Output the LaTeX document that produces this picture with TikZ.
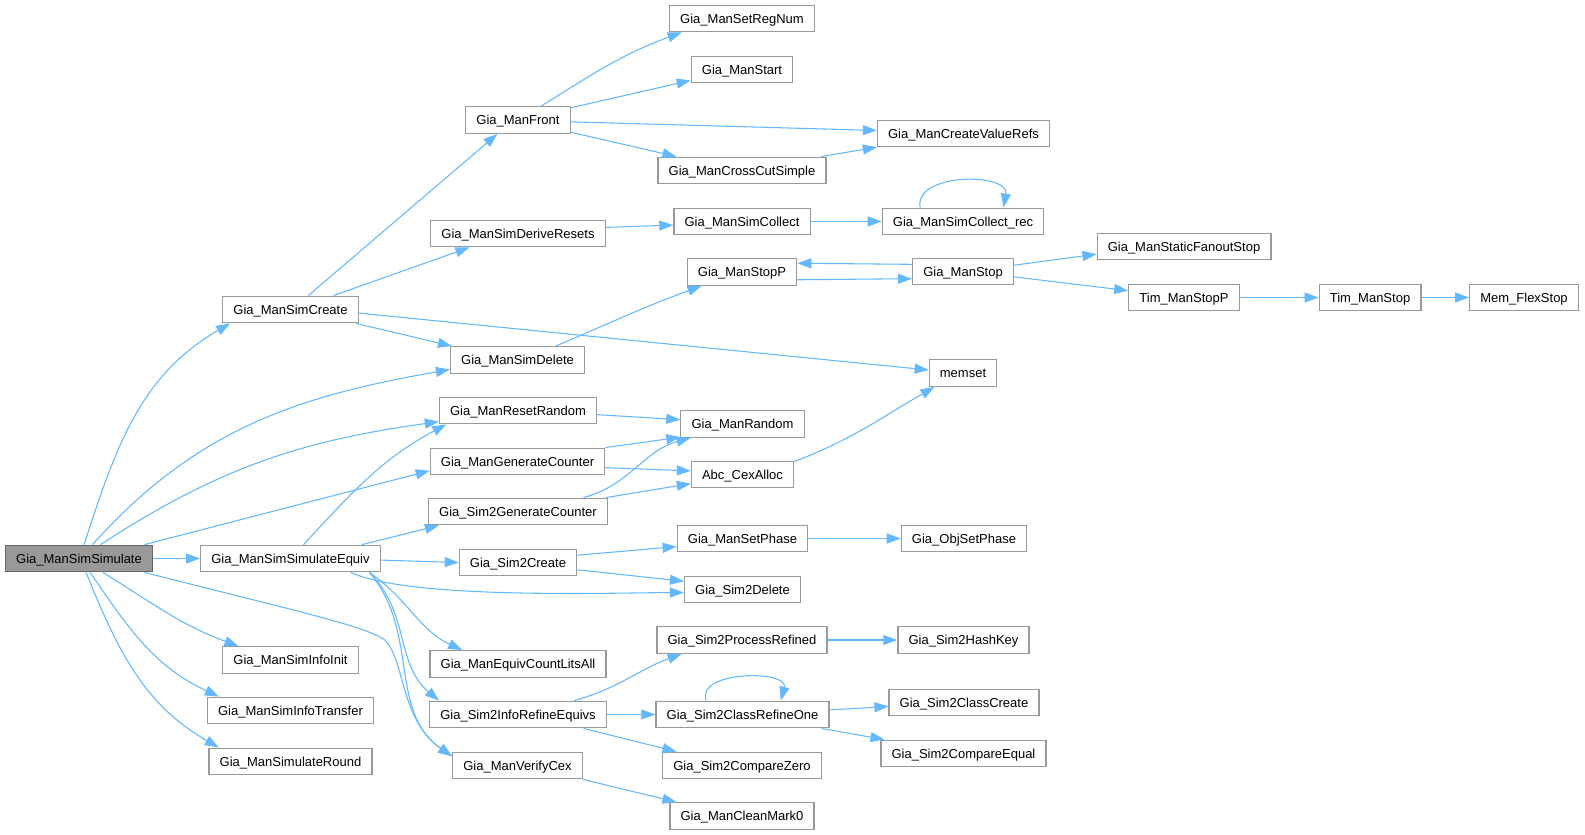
\documentclass[tikz,border=0pt]{standalone}
\usepackage{fontspec}
\setmainfont{Liberation Sans}
\usetikzlibrary{arrows.meta}
\definecolor{edgeblue}{HTML}{63B8FF}
\definecolor{boxline}{HTML}{999999}
\definecolor{rootfill}{HTML}{999999}
\definecolor{rootline}{HTML}{666666}
\begin{document}
\begin{tikzpicture}[x=0.75pt, y=-0.75pt,
    fn/.style={draw=boxline, line width=0.9pt, fill=white, inner xsep=8pt, inner ysep=0pt, minimum height=20pt, text height=7pt, text depth=0pt, font=\fontsize{9.75}{11}\selectfont},
    rootfn/.style={fn, draw=rootline, fill=rootfill},
    call/.style={draw=edgeblue, line width=0.8pt, -{Triangle[length=10.5pt,width=7.5pt]}}]
    \useasboundingbox (0,0) rectangle (1585,835);
    \node[rootfn] (sim) at (79,558.5) {Gia\_ManSimSimulate};
    \node[fn] (simcreate) at (290.5,309.5) {Gia\_ManSimCreate};
    \node[fn] (simequiv) at (290.5,558.5) {Gia\_ManSimSimulateEquiv};
    \node[fn] (infoinit) at (290.5,660) {Gia\_ManSimInfoInit};
    \node[fn] (infotransfer) at (290.5,710.5) {Gia\_ManSimInfoTransfer};
    \node[fn] (simround) at (290.5,761.5) {Gia\_ManSimulateRound};
    \node[fn] (front) at (518,120) {Gia\_ManFront};
    \node[fn] (deriveresets) at (518,233.5) {Gia\_ManSimDeriveResets};
    \node[fn] (simdelete) at (517.5,360) {Gia\_ManSimDelete};
    \node[fn] (resetrandom) at (518,410.5) {Gia\_ManResetRandom};
    \node[fn] (gencounter) at (517.5,461.5) {Gia\_ManGenerateCounter};
    \node[fn] (sim2gencounter) at (518,511.5) {Gia\_Sim2GenerateCounter};
    \node[fn] (sim2create) at (518,562.5) {Gia\_Sim2Create};
    \node[fn] (equivcount) at (518,664) {Gia\_ManEquivCountLitsAll};
    \node[fn] (refineequivs) at (518,714.5) {Gia\_Sim2InfoRefineEquivs};
    \node[fn] (verifycex) at (517.5,765.5) {Gia\_ManVerifyCex};
    \node[fn] (setregnum) at (742,18.5) {Gia\_ManSetRegNum};
    \node[fn] (manstart) at (742,69.5) {Gia\_ManStart};
    \node[fn] (crosscut) at (742,170.5) {Gia\_ManCrossCutSimple};
    \node[fn] (simcollect) at (742,221.5) {Gia\_ManSimCollect};
    \node[fn] (stopp) at (742,272) {Gia\_ManStopP};
    \node[fn] (random) at (742.5,424) {Gia\_ManRandom};
    \node[fn] (cexalloc) at (742.5,474.5) {Abc\_CexAlloc};
    \node[fn] (setphase) at (742.5,538.5) {Gia\_ManSetPhase};
    \node[fn] (sim2delete) at (742.5,589.5) {Gia\_Sim2Delete};
    \node[fn] (processrefined) at (742,640) {Gia\_Sim2ProcessRefined};
    \node[fn] (classrefineone) at (742.5,714.5) {Gia\_Sim2ClassRefineOne};
    \node[fn] (comparezero) at (742,765.5) {Gia\_Sim2CompareZero};
    \node[fn] (cleanmark) at (742,816) {Gia\_ManCleanMark0};
    \node[fn] (valuerefs) at (963.5,133.5) {Gia\_ManCreateValueRefs};
    \node[fn] (collectrec) at (963,221.5) {Gia\_ManSimCollect\_rec};
    \node[fn] (manstop) at (963,271.5) {Gia\_ManStop};
    \node[fn] (memset) at (963,373) {memset};
    \node[fn] (objsetphase) at (964,538.5) {Gia\_ObjSetPhase};
    \node[fn] (hashkey) at (963.5,640) {Gia\_Sim2HashKey};
    \node[fn] (classcreate) at (964,702.5) {Gia\_Sim2ClassCreate};
    \node[fn] (compareequal) at (963.5,753.5) {Gia\_Sim2CompareEqual};
    \node[fn] (fanoutstop) at (1184,246.5) {Gia\_ManStaticFanoutStop};
    \node[fn] (timstopp) at (1184,297.5) {Tim\_ManStopP};
    \node[fn] (timstop) at (1370,297.5) {Tim\_ManStop};
    \node[fn] (flexstop) at (1524,297.5) {Mem\_FlexStop};

    \draw[call] (sim.70) to[out=72,in=210] (simcreate.-167);
    \draw[call] (sim.46) to[out=48,in=190] (simdelete.188);
    \draw[call] (sim.33) to[out=33,in=188] (resetrandom.188);
    \draw[call] (sim.12) -- (gencounter.186);
    \draw[call] (sim) -- (simequiv);
    \draw[call] (sim.-12) .. controls (300,612) and (365,626) .. (385,640) .. controls (405,660) and (400,720) .. (verifycex.172);
    \draw[call] (sim.-30) to[out=-32,in=160] (infoinit.165);
    \draw[call] (sim.-51) to[out=-56,in=155] (infotransfer.169);
    \draw[call] (sim.-63) to[out=-68,in=150] (simround.169);

    \draw[call] (simcreate.38) -- (front.-146);
    \draw[call] (simcreate.18) -- (deriveresets.-164);
    \draw[call] (simcreate.-3) -- (memset.175);
    \draw[call] (simcreate.-12) -- (simdelete.168);

    \draw[call] (front.31) to[out=32,in=200] (setregnum.-167);
    \draw[call] (front.13) -- (manstart.192);
    \draw[call] (front.-2) -- (valuerefs.178);
    \draw[call] (front.-13) -- (crosscut.168);
    \draw[call] (crosscut.10) -- (valuerefs.-171);

    \draw[call] (deriveresets.4) -- (simcollect.183);
    \draw[call] (simcollect) -- (collectrec);
    \draw[call] (collectrec.162) to[out=100,in=80,looseness=1.1] (collectrec.19);

    \draw[call] (simdelete.20) to[out=23,in=200] (stopp.-161);
    \draw[call] (stopp.-8) -- (manstop.188);
    \draw[call] (manstop.172) -- (stopp.9);
    \draw[call] (manstop.7) -- (fanoutstop.185);
    \draw[call] (manstop.-6) -- (timstopp.173);
    \draw[call] (timstopp) -- (timstop);
    \draw[call] (timstop) -- (flexstop);

    \draw[call] (resetrandom.-3) -- (random.176);
    \draw[call] (gencounter.9) -- (random.-168);
    \draw[call] (gencounter.-4) -- (cexalloc.176);
    \draw[call] (sim2gencounter.12) to[out=15,in=195] (random.-165);
    \draw[call] (sim2gencounter.9) -- (cexalloc.190);
    \draw[call] (cexalloc.14) to[out=21,in=210] (memset.-154);

    \draw[call] (simequiv.47) to[out=47,in=208] (resetrandom.-169);
    \draw[call] (simequiv.11) -- (sim2gencounter.-170);
    \draw[call] (simequiv.-1) -- (sim2create.west);
    \draw[call] (simequiv.-13) to[out=-25,in=180,looseness=0.5] (sim2delete.183);
    \draw[call] (simequiv.-10) to[out=-35,in=155] (equivcount.166);
    \draw[call] (simequiv.-10) to[out=-45,in=140] (refineequivs.170);
    \draw[call] (simequiv.-10) to[out=-50,in=145] (verifycex.172);

    \draw[call] (sim2create.7) -- (setphase.187);
    \draw[call] (sim2create.-7) -- (sim2delete.172);
    \draw[call] (setphase) -- (objsetphase);

    \draw[call] (refineequivs.14) to[out=15,in=200] (processrefined.-167);
    \draw[call] (refineequivs) -- (classrefineone);
    \draw[call] (refineequivs.-12) -- (comparezero.168);
    \draw[call] (processrefined) -- (hashkey);
    \draw[call] (classrefineone.159) to[out=110,in=75,looseness=1.1] (classrefineone.20);
    \draw[call] (classrefineone.3) -- (classcreate.183);
    \draw[call] (classrefineone.-10) -- (compareequal.170);
    \draw[call] (verifycex.-12) -- (cleanmark.168);
\end{tikzpicture}
\end{document}
